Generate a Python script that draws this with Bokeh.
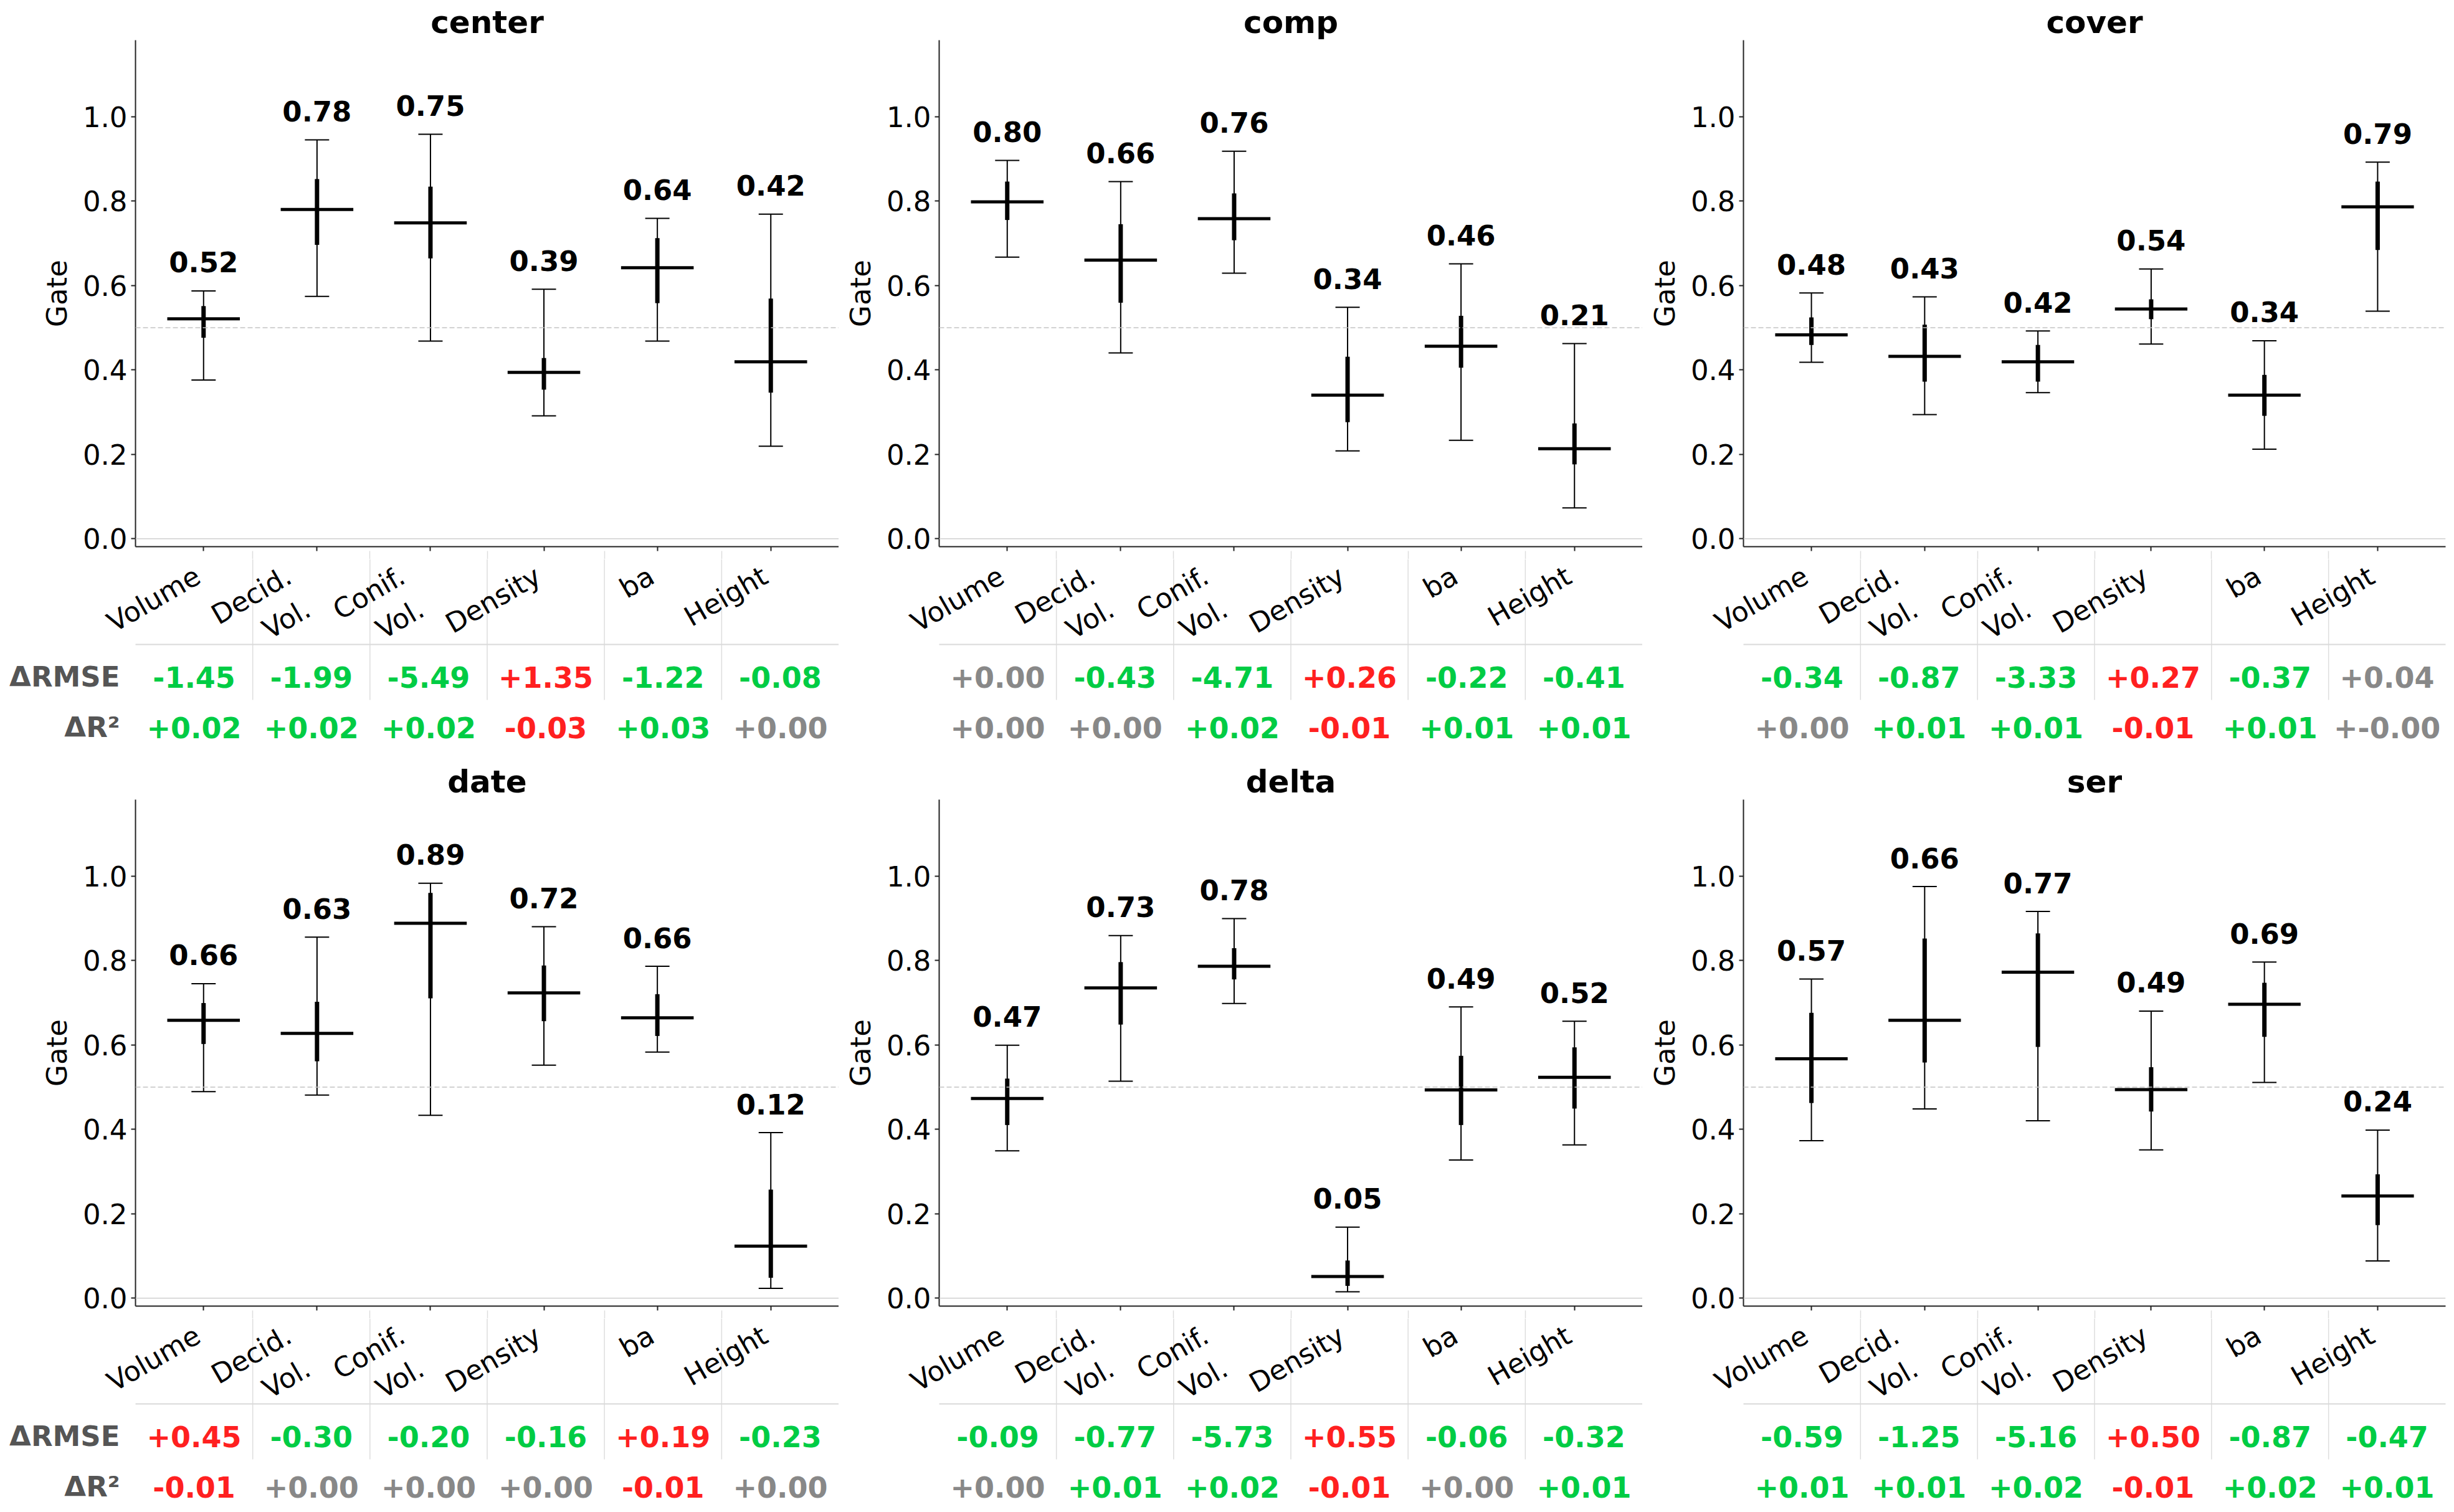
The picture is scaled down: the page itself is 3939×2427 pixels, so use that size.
import math
from bokeh.plotting import figure
from bokeh.layouts import row, column
from bokeh.models import Range1d, FixedTicker, Span, ColumnDataSource, PrintfTickFormatter, LinearAxis
from bokeh.embed import file_html
from bokeh.resources import INLINE
from bokeh.core.properties import value

# ---------------- data ----------------
categories = ["Volume", "Decid.\nVol.", "Conif.\nVol.", "Density", "ba", "Height"]
panel_names = ["center", "comp", "cover", "date", "delta", "ser"]
row_labels = ["\u0394RMSE", "\u0394R\u00b2"]

center_mean = [0.521, 0.780, 0.748, 0.394, 0.642, 0.419]
center_q_lo = [0.476, 0.696, 0.664, 0.353, 0.558, 0.346]
center_q_hi = [0.551, 0.852, 0.834, 0.428, 0.712, 0.569]
center_lo = [0.376, 0.574, 0.468, 0.291, 0.468, 0.219]
center_hi = [0.587, 0.945, 0.958, 0.591, 0.759, 0.769]
center_labels = ["0.52", "0.78", "0.75", "0.39", "0.64", "0.42"]
center_drmse = ["-1.45", "-1.99", "-5.49", "+1.35", "-1.22", "-0.08"]
center_dr2 = ["+0.02", "+0.02", "+0.02", "-0.03", "+0.03", "+0.00"]

comp_mean = [0.798, 0.660, 0.758, 0.340, 0.456, 0.213]
comp_q_lo = [0.755, 0.559, 0.707, 0.276, 0.405, 0.176]
comp_q_hi = [0.846, 0.745, 0.818, 0.431, 0.528, 0.273]
comp_lo = [0.667, 0.440, 0.629, 0.208, 0.233, 0.073]
comp_hi = [0.896, 0.846, 0.918, 0.548, 0.651, 0.462]
comp_labels = ["0.80", "0.66", "0.76", "0.34", "0.46", "0.21"]
comp_drmse = ["+0.00", "-0.43", "-4.71", "+0.26", "-0.22", "-0.41"]
comp_dr2 = ["+0.00", "+0.00", "+0.02", "-0.01", "+0.01", "+0.01"]

cover_mean = [0.483, 0.432, 0.419, 0.544, 0.340, 0.786]
cover_q_lo = [0.459, 0.372, 0.372, 0.520, 0.291, 0.684]
cover_q_hi = [0.524, 0.507, 0.459, 0.567, 0.388, 0.846]
cover_lo = [0.418, 0.294, 0.346, 0.461, 0.212, 0.539]
cover_hi = [0.582, 0.573, 0.492, 0.639, 0.469, 0.892]
cover_labels = ["0.48", "0.43", "0.42", "0.54", "0.34", "0.79"]
cover_drmse = ["-0.34", "-0.87", "-3.33", "+0.27", "-0.37", "+0.04"]
cover_dr2 = ["+0.00", "+0.01", "+0.01", "-0.01", "+0.01", "+-0.00"]

date_mean = [0.658, 0.627, 0.888, 0.723, 0.664, 0.123]
date_q_lo = [0.602, 0.561, 0.710, 0.656, 0.621, 0.048]
date_q_hi = [0.699, 0.702, 0.960, 0.788, 0.720, 0.257]
date_lo = [0.489, 0.481, 0.433, 0.552, 0.583, 0.023]
date_hi = [0.745, 0.855, 0.983, 0.880, 0.786, 0.392]
date_labels = ["0.66", "0.63", "0.89", "0.72", "0.66", "0.12"]
date_drmse = ["+0.45", "-0.30", "-0.20", "-0.16", "+0.19", "-0.23"]
date_dr2 = ["-0.01", "+0.00", "+0.00", "+0.00", "-0.01", "+0.00"]

delta_mean = [0.473, 0.735, 0.786, 0.051, 0.493, 0.523]
delta_q_lo = [0.410, 0.648, 0.755, 0.029, 0.410, 0.449]
delta_q_hi = [0.520, 0.796, 0.829, 0.089, 0.574, 0.594]
delta_lo = [0.349, 0.514, 0.698, 0.015, 0.327, 0.363]
delta_hi = [0.599, 0.859, 0.899, 0.168, 0.690, 0.656]
delta_labels = ["0.47", "0.73", "0.78", "0.05", "0.49", "0.52"]
delta_drmse = ["-0.09", "-0.77", "-5.73", "+0.55", "-0.06", "-0.32"]
delta_dr2 = ["+0.00", "+0.01", "+0.02", "-0.01", "+0.00", "+0.01"]

ser_mean = [0.567, 0.658, 0.772, 0.494, 0.696, 0.242]
ser_q_lo = [0.462, 0.558, 0.595, 0.442, 0.619, 0.173]
ser_q_hi = [0.676, 0.852, 0.864, 0.547, 0.747, 0.293]
ser_lo = [0.373, 0.448, 0.420, 0.351, 0.511, 0.088]
ser_hi = [0.756, 0.975, 0.916, 0.680, 0.796, 0.398]
ser_labels = ["0.57", "0.66", "0.77", "0.49", "0.69", "0.24"]
ser_drmse = ["-0.59", "-1.25", "-5.16", "+0.50", "-0.87", "-0.47"]
ser_dr2 = ["+0.01", "+0.01", "+0.02", "-0.01", "+0.02", "+0.01"]

panels = {
    "center": (center_mean, center_q_lo, center_q_hi, center_lo, center_hi, center_labels, center_drmse, center_dr2),
    "comp": (comp_mean, comp_q_lo, comp_q_hi, comp_lo, comp_hi, comp_labels, comp_drmse, comp_dr2),
    "cover": (cover_mean, cover_q_lo, cover_q_hi, cover_lo, cover_hi, cover_labels, cover_drmse, cover_dr2),
    "date": (date_mean, date_q_lo, date_q_hi, date_lo, date_hi, date_labels, date_drmse, date_dr2),
    "delta": (delta_mean, delta_q_lo, delta_q_hi, delta_lo, delta_hi, delta_labels, delta_drmse, delta_dr2),
    "ser": (ser_mean, ser_q_lo, ser_q_hi, ser_lo, ser_hi, ser_labels, ser_drmse, ser_dr2),
}

# ---------------- style ----------------
FONT = "DejaVu Sans"
GREEN, RED, GRAY = "#00cc44", "#ff2020", "#888888"
X_START, X_END = -0.6, 5.6
Y_START, Y_END = -0.019, 1.181
MEAN_HALF = 0.32
CAP_HALF = 0.107
FRAME_H = 813
TICK_OUT = 7
SEP_TOP = 13                   # separator stub drawn by a second, bare axis
TOP_B, BOT_B = 64, TICK_OUT + SEP_TOP
TABLE_LINE = 137               # px from top of the lower strip
ROW_Y = [189, 270]
SEP_LEN = 226
LABEL_Y = 1
xs = list(range(len(categories)))
ncol = len(categories)
col_w = (X_END - X_START) / ncol
seps = [X_START + k * col_w for k in range(1, ncol)]
centers = [X_START + (k + 0.5) * col_w for k in range(ncol)]


def num(s):
    return float(s.replace("+-", "-"))


def rmse_color(s):
    v = num(s)
    return GREEN if v <= -0.05 else (RED if v >= 0.05 else GRAY)


def r2_color(s):
    v = num(s)
    return GREEN if v > 0.005 else (RED if v < -0.005 else GRAY)


def main_fig(name, bl, fw, br):
    mean, q_lo, q_hi, lo, hi, labels, _, _ = panels[name]
    p = figure(frame_width=fw, frame_height=FRAME_H, min_border_left=bl, min_border_right=br,
               min_border_top=TOP_B, min_border_bottom=BOT_B,
               x_range=Range1d(X_START, X_END), y_range=Range1d(Y_START, Y_END),
               output_backend="svg", toolbar_location=None, title=name)
    p.outline_line_color = None
    p.xgrid.visible = False
    p.ygrid.visible = False
    p.background_fill_color = "white"
    p.border_fill_color = "white"
    p.title.text_font = FONT
    p.title.text_font_size = "50px"
    p.title.text_font_style = "bold"
    p.title.text_color = "black"
    p.title.align = "center"
    p.title.standoff = 0
    p.title.offset = 0

    ya = p.yaxis[0]
    ya.ticker = FixedTicker(ticks=[0.0, 0.2, 0.4, 0.6, 0.8, 1.0])
    ya.formatter = PrintfTickFormatter(format="%.1f")
    ya.axis_label = "Gate"
    ya.axis_label_text_font = FONT
    ya.axis_label_text_font_size = "45px"
    ya.axis_label_text_font_style = "normal"
    ya.axis_label_text_color = "black"
    ya.axis_label_standoff = 12
    ya.major_label_text_font = FONT
    ya.major_label_text_font_size = "45px"
    ya.major_label_text_color = "black"
    ya.major_label_standoff = 6
    ya.major_tick_in = 0
    ya.major_tick_out = TICK_OUT
    ya.major_tick_line_width = 2
    ya.major_tick_line_color = "#222222"
    ya.axis_line_color = "#222222"
    ya.axis_line_width = 2

    # x axis: line and tick marks only; the category names are drawn in the strip below
    xa = p.xaxis[0]
    xa.ticker = FixedTicker(ticks=[], minor_ticks=xs)
    xa.major_label_standoff = 0
    xa.minor_tick_in = 0
    xa.minor_tick_out = TICK_OUT
    xa.minor_tick_line_color = "#222222"
    xa.minor_tick_line_width = 2
    xa.axis_line_color = "#222222"
    xa.axis_line_width = 2

    # bare second axis: the top stub of the table's column separators
    sep_axis = LinearAxis(ticker=FixedTicker(ticks=[], minor_ticks=seps), axis_line_color=None,
                          major_label_standoff=0, minor_tick_in=0, minor_tick_out=SEP_TOP,
                          minor_tick_line_color="#dddddd", minor_tick_line_width=1.5)
    p.add_layout(sep_axis, "below")

    p.add_layout(Span(location=0.0, dimension="width", line_color="#d0d0d0", line_width=1.5))
    p.add_layout(Span(location=0.5, dimension="width", line_color="#c4c4c4", line_width=1.5,
                      line_dash="8 4"))

    src = ColumnDataSource(dict(
        x=xs, mean=mean, q_lo=q_lo, q_hi=q_hi, lo=lo, hi=hi, label=labels,
        ml=[x - MEAN_HALF for x in xs], mr=[x + MEAN_HALF for x in xs],
        cl=[x - CAP_HALF for x in xs], cr=[x + CAP_HALF for x in xs]))
    p.segment(x0="x", y0="lo", x1="x", y1="hi", source=src, line_color="black", line_width=2)
    p.segment(x0="cl", y0="hi", x1="cr", y1="hi", source=src, line_color="black", line_width=2)
    p.segment(x0="cl", y0="lo", x1="cr", y1="lo", source=src, line_color="black", line_width=2)
    p.segment(x0="x", y0="q_lo", x1="x", y1="q_hi", source=src, line_color="black", line_width=7)
    p.segment(x0="ml", y0="mean", x1="mr", y1="mean", source=src, line_color="black", line_width=5)
    p.text(x="x", y="hi", text="label", source=src, y_offset=-46, text_align="center",
           text_baseline="alphabetic", text_font=value(FONT), text_font_size="45px",
           text_font_style="bold", text_color="black")
    return p


def table_fig(name, bl, fw, br, H, show_labels):
    _, _, _, _, _, _, drmse, dr2 = panels[name]
    ppu = fw / (X_END - X_START)
    t = figure(width=bl + fw + br, height=H, min_border=0,
               x_range=Range1d(X_START - bl / ppu, X_END + br / ppu), y_range=Range1d(H, 0),
               x_axis_location=None, y_axis_location=None,
               output_backend="svg", toolbar_location=None)
    t.outline_line_color = None
    t.xgrid.visible = False
    t.ygrid.visible = False
    t.background_fill_color = "white"
    t.border_fill_color = "white"
    t.segment(x0=seps, y0=[0] * len(seps), x1=seps, y1=[SEP_LEN] * len(seps),
              line_color="#dddddd", line_width=1.5)
    # category tick labels (rotated 30 degrees, right end at the tick)
    nlines = [c.count("\n") + 1 for c in categories]
    t.text(x=xs, y=[LABEL_Y] * ncol, text=categories, angle=math.pi / 6,
           x_offset=[-(22 + 36 * (n - 1)) for n in nlines],
           text_align="right", text_baseline="top", text_font=value(FONT),
           text_font_size="44px", text_color="black", text_line_height=1.2)
    t.segment(x0=[X_START], y0=[TABLE_LINE], x1=[X_END], y1=[TABLE_LINE],
              line_color="#d9d9d9", line_width=2)
    t.text(x=centers, y=[ROW_Y[0]] * ncol, text=drmse, text_color=[rmse_color(s) for s in drmse],
           text_align="center", text_baseline="middle", text_font=value(FONT),
           text_font_size="46px", text_font_style="bold")
    t.text(x=centers, y=[ROW_Y[1]] * ncol, text=dr2, text_color=[r2_color(s) for s in dr2],
           text_align="center", text_baseline="middle", text_font=value(FONT),
           text_font_size="46px", text_font_style="bold")
    if show_labels:
        t.text(x=[X_START, X_START], y=ROW_Y, text=row_labels, x_offset=-25,
               text_align="right", text_baseline="middle", text_font=value(FONT),
               text_font_size="45px", text_font_style="bold", text_color="#555555")
    return t


geom = [(217, 1129, 0), (161, 1129, 0), (162, 1127, 14)]
rows = []
for r, Htab in ((0, 322), (1, 311)):
    names = panel_names[3 * r:3 * r + 3]
    mains = [main_fig(n, *g) for n, g in zip(names, geom)]
    tabs = [table_fig(n, *g, Htab, i == 0) for i, (n, g) in enumerate(zip(names, geom))]
    rows.append(row(*mains, spacing=0))
    rows.append(row(*tabs, spacing=0))

layout = column(*rows, spacing=0)
open("out.html", "w").write(file_html(layout, INLINE))
